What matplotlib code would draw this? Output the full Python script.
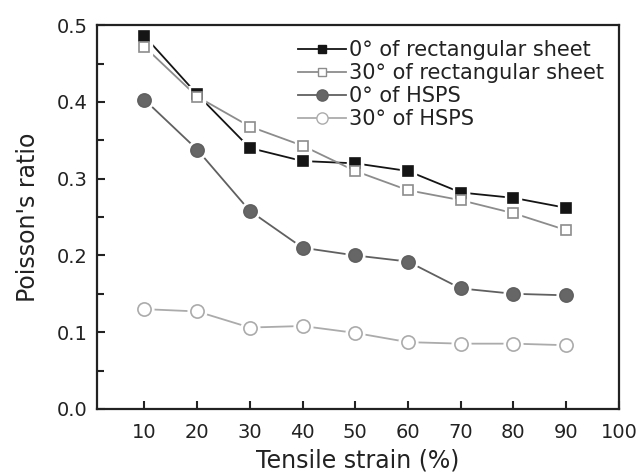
import matplotlib
matplotlib.use("Agg")
import matplotlib.pyplot as plt
from matplotlib.ticker import MultipleLocator, FormatStrFormatter

plt.rcParams['font.family'] = ['DejaVu Sans']

# --- dados ---
strain = [10, 20, 30, 40, 50, 60, 70, 80, 90]
rect_0 = [0.486, 0.410, 0.340, 0.323, 0.320, 0.310, 0.282, 0.275, 0.262]
rect_30 = [0.472, 0.407, 0.368, 0.343, 0.310, 0.285, 0.272, 0.255, 0.233]
hsps_0 = [0.403, 0.338, 0.258, 0.210, 0.200, 0.192, 0.157, 0.150, 0.148]
hsps_30 = [0.130, 0.127, 0.106, 0.108, 0.099, 0.087, 0.085, 0.085, 0.083]

series = [
    (rect_0, 's', 7.5, '#151515', '#151515', '0° of rectangular sheet'),
    (rect_30, 's', 7.5, '#8c8c8c', 'white', '30° of rectangular sheet'),
    (hsps_0, 'o', 9.5, '#606060', '#666666', '0° of HSPS'),
    (hsps_30, 'o', 9.5, '#ababab', 'white', '30° of HSPS'),
]

fig = plt.figure(figsize=(6.38, 4.76), dpi=100)
ax = fig.add_axes([0.152, 0.141, 0.818, 0.806])

for i, (y, mk, ms, cor, fill, nome) in enumerate(series):
    # linhas embaixo, depois halo branco (linha interrompida), depois marcadores
    ax.plot(strain, y, '-', color=cor, lw=1.3, zorder=2)
    ax.plot(strain, y, mk, ls='none', ms=ms + 4, mfc='white', mec='white', zorder=3)
    ax.plot(strain, y, mk, ls='none', ms=ms, mfc=fill, mec=cor, mew=1.2, zorder=4 + i)
    # entrada da legenda
    ax.plot([], [], '-' + mk, color=cor, lw=1.3, ms=ms * 0.85, mfc=fill, mec=cor,
            label=nome)

ax.set_xlim(1, 100)
ax.set_ylim(0, 0.5)
ax.set_xticks(range(10, 101, 10))
ax.yaxis.set_major_locator(MultipleLocator(0.1))
ax.yaxis.set_minor_locator(MultipleLocator(0.05))
ax.yaxis.set_major_formatter(FormatStrFormatter('%.1f'))

ax.tick_params(axis='both', which='both', direction='in', top=False, right=False,
               labelsize=14, colors='#222222', width=1.5)
ax.tick_params(which='major', length=6)
ax.tick_params(which='minor', length=5)
ax.tick_params(axis='x', pad=10)
ax.tick_params(axis='y', pad=7)
for s in ax.spines.values():
    s.set_linewidth(1.6)
    s.set_color('#222222')

ax.set_xlabel('Tensile strain (%)', fontsize=17, color='#222222', labelpad=5)
ax.set_ylabel("Poisson's ratio", fontsize=17, color='#222222', labelpad=12)

leg = ax.legend(loc='upper right', fontsize=15, frameon=False, handlelength=2.3,
                handletextpad=0.15, labelspacing=0.15, borderaxespad=0.3)
for t in leg.get_texts():
    t.set_color('#222222')

fig.savefig('out.png', dpi=100, facecolor='white')
